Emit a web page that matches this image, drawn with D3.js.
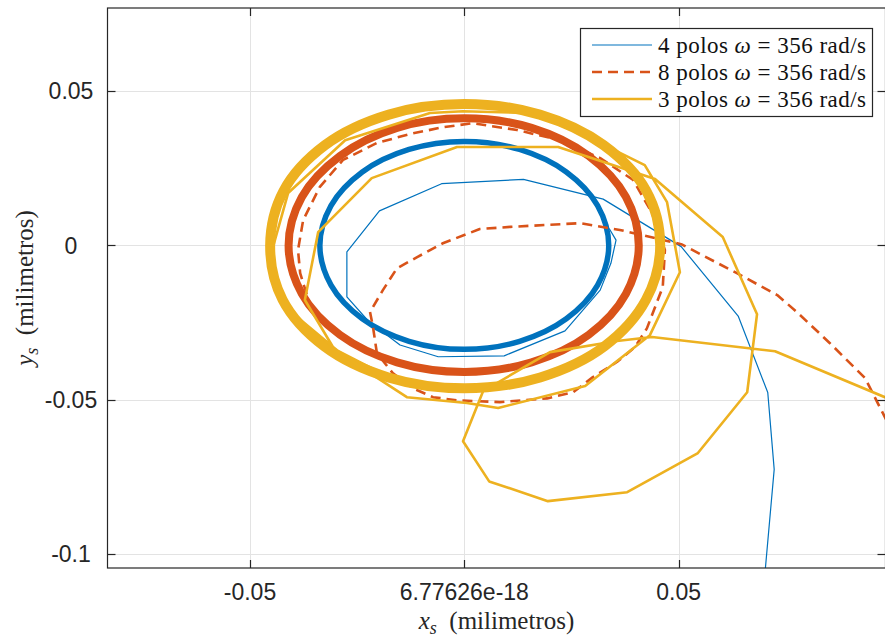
<!DOCTYPE html>
<html><head><meta charset="utf-8">
<script src="https://cdn.jsdelivr.net/npm/d3@7"></script>
<style>body{margin:0;background:#fff}svg{display:block}</style>
</head><body><svg id="c" width="885" height="642"></svg>
<script>
// ---------- DATA ----------
const legendLabels = ["4 polos", "8 polos", "3 polos"];
const legendOmega = "356 rad/s";
const xTickValues = [-0.05, 6.77626e-18, 0.05];
const xTickLabels = ["-0.05", "6.77626e-18", "0.05"];
const yTickValues = [0.05, 0, -0.05, -0.1];
const yTickLabels = ["0.05", "0", "-0.05", "-0.1"];

// 4 polos: transient then steady orbit
const blueTransient = [
  [0.0700,-0.1085],[0.0723,-0.0726],[0.0708,-0.0477],[0.0639,-0.0229],[0.0506,-0.0004],
  [0.0324,0.0150],[0.0138,0.0214],[-0.0053,0.0200],[-0.0198,0.0112],[-0.0274,-0.0021],
  [-0.0274,-0.0167],[-0.0224,-0.0245],[-0.0150,-0.0323],[-0.0061,-0.0361],[0.0093,-0.0358],
  [0.0235,-0.0277],[0.0317,-0.0145],[0.0342,-0.0058],[0.0354,0.0017],[0.0338,0.0055]
];
const blueOrbit = [
  [0.0337,0],[0.0311,0.0129],[0.0238,0.0238],[0.0129,0.0311],[0,0.0337],[-0.0129,0.0311],
  [-0.0238,0.0238],[-0.0311,0.0129],[-0.0337,0],[-0.0311,-0.0129],[-0.0238,-0.0238],
  [-0.0129,-0.0311],[0,-0.0337],[0.0129,-0.0311],[0.0238,-0.0238],[0.0311,-0.0129]
];
// 8 polos
const orangeTransient = [
  [0.0985,-0.0567],[0.0935,-0.0430],[0.0853,-0.0317],[0.0776,-0.0216],[0.0730,-0.0161],
  [0.0636,-0.0090],[0.0506,0.0004],[0.0363,0.0050],[0.0270,0.0072],[0.0107,0.0060],
  [0.0036,0.0053],[-0.0050,0.0007],[-0.0110,-0.0038],[-0.0157,-0.0074],[-0.0190,-0.0145],
  [-0.0220,-0.0216],[-0.0213,-0.0265],[-0.0204,-0.0349],[-0.0167,-0.0414],[-0.0120,-0.0463],
  [-0.0073,-0.0492],[-0.0017,-0.0502],[0.0083,-0.0508],[0.0193,-0.0496],[0.0254,-0.0476],
  [0.0300,-0.0427],[0.0356,-0.0378],[0.0398,-0.0330],[0.0426,-0.0269],[0.0463,-0.0135],
  [0.0468,-0.0015],[0.0438,0.0105],[0.0394,0.0212],[0.0317,0.0283],[0.0223,0.0341],
  [0.0123,0.0374],[0.0020,0.0396],[-0.0050,0.0383],[-0.0127,0.0361],[-0.0204,0.0332],
  [-0.0283,0.0277],[-0.0337,0.0190],[-0.0376,0.0082],[-0.0388,-0.0015],[-0.0383,-0.0090],
  [-0.0365,-0.0171]
];
const orangeOrbit = [
  [0.0407,0],[0.0377,0.0157],[0.0290,0.0290],[0.0157,0.0381],[0,0.0412],[-0.0157,0.0381],
  [-0.0290,0.0290],[-0.0379,0.0157],[-0.0410,0],[-0.0379,-0.0157],[-0.0290,-0.0290],
  [-0.0157,-0.0379],[0,-0.0410],[0.0157,-0.0379],[0.0290,-0.0290],[0.0377,-0.0157]
];
// 3 polos
const yellowTransient = [
  [0.0993,-0.0499],[0.0725,-0.0343],[0.0438,-0.0297],[0.0356,-0.0310],[0.0200,-0.0346],
  [0.0044,-0.0472],[-0.0003,-0.0635],[0.0058,-0.0765],[0.0195,-0.0829],[0.0380,-0.0800],
  [0.0545,-0.0673],[0.0660,-0.0476],[0.0683,-0.0223],[0.0603,0.0027],[0.0445,0.0215],
  [0.0219,0.0319],[-0.0017,0.0319],[-0.0216,0.0218],[-0.0341,0.0043],[-0.0372,-0.0177],
  [-0.0302,-0.0340],[-0.0134,-0.0492],[0.0006,-0.0511],[0.0079,-0.0527],[0.0282,-0.0456],
  [0.0433,-0.0291],[0.0503,-0.0087],[0.0473,0.0140],[0.0421,0.0260],[0.0270,0.0364],
  [0.0153,0.0429],[-0.0003,0.0435],[-0.0080,0.0429],[-0.0278,0.0341],[-0.0411,0.0170],
  [-0.0453,-0.0038],[-0.0435,-0.0145],[-0.0390,-0.0232],[-0.0297,-0.0340],[-0.0197,-0.0412]
];
const yellowOrbit = [
  [0.0457,0],[0.0425,0.0176],[0.0325,0.0325],[0.0176,0.0424],[0,0.0458],[-0.0176,0.0424],
  [-0.0325,0.0325],[-0.0422,0.0176],[-0.0453,0],[-0.0424,-0.0176],[-0.0327,-0.0327],
  [-0.0177,-0.0428],[0,-0.0463],[0.0177,-0.0428],[0.0327,-0.0327],[0.0424,-0.0176]
];
const colors = ["#0072BD", "#D95319", "#EDB120"];

// ---------- LAYOUT ----------
const L = 107.5, T = 8, R = 885.5, B = 568;
const svg = d3.select("#c");
const x = d3.scaleLinear().domain([-0.08325, 0.09827]).range([L, R]);
const y = d3.scaleLinear().domain([-0.10457, 0.07695]).range([B, T]);
const axisColor = "#262626";

// grid
const g = svg.append("g");
g.selectAll(".gx").data(xTickValues).enter().append("line")
  .attr("x1", d => Math.round(x(d)) + 0.5).attr("x2", d => Math.round(x(d)) + 0.5)
  .attr("y1", T).attr("y2", B).attr("stroke", "#e3e3e3").attr("stroke-width", 1);
g.selectAll(".gy").data(yTickValues).enter().append("line")
  .attr("y1", d => Math.round(y(d)) + 0.5).attr("y2", d => Math.round(y(d)) + 0.5)
  .attr("x1", L).attr("x2", R).attr("stroke", "#e3e3e3").attr("stroke-width", 1);

// clip
svg.append("clipPath").attr("id", "clip").append("rect")
  .attr("x", L).attr("y", T).attr("width", R - L).attr("height", B - T);
const plot = svg.append("g").attr("clip-path", "url(#clip)");

const lineOpen = d3.line().x(d => x(d[0])).y(d => y(d[1]));
const lineClosed = d3.line().x(d => x(d[0])).y(d => y(d[1])).curve(d3.curveCatmullRomClosed);

function series(trans, orbit, color, thinW, bandW, dash) {
  plot.append("path").attr("d", lineClosed(orbit)).attr("fill", "none")
    .attr("stroke", color).attr("stroke-width", bandW);
  plot.append("path").attr("d", lineOpen(trans)).attr("fill", "none")
    .attr("stroke", color).attr("stroke-width", thinW)
    .attr("stroke-linejoin", "round")
    .attr("stroke-dasharray", dash || null);
}
series(blueTransient, blueOrbit, colors[0], 1.2, 5.5, null);
series(orangeTransient, orangeOrbit, colors[1], 2.6, 8, "10,6");
series(yellowTransient, yellowOrbit, colors[2], 2.6, 10, null);

// axes box
const ax = svg.append("g");
ax.append("rect").attr("x", L).attr("y", T).attr("width", R - L).attr("height", B - T)
  .attr("fill", "none").attr("stroke", axisColor).attr("stroke-width", 1.2);

// ticks (inward, on all four sides)
const tk = 8;
xTickValues.forEach(v => {
  const px = Math.round(x(v)) + 0.5;
  ax.append("line").attr("x1", px).attr("x2", px).attr("y1", B).attr("y2", B - tk).attr("stroke", axisColor).attr("stroke-width", 1.2);
  ax.append("line").attr("x1", px).attr("x2", px).attr("y1", T).attr("y2", T + tk).attr("stroke", axisColor).attr("stroke-width", 1.2);
});
yTickValues.forEach(v => {
  const py = Math.round(y(v)) + 0.5;
  ax.append("line").attr("y1", py).attr("y2", py).attr("x1", L).attr("x2", L + tk).attr("stroke", axisColor).attr("stroke-width", 1.2);
  ax.append("line").attr("y1", py).attr("y2", py).attr("x1", R).attr("x2", R - tk).attr("stroke", axisColor).attr("stroke-width", 1.2);
});

// tick labels
const tickFont = "'Liberation Sans', Arial, sans-serif";
ax.selectAll(".xl").data(xTickValues).enter().append("text")
  .attr("x", d => x(d)).attr("y", 600)
  .attr("text-anchor", "middle").attr("font-family", tickFont).attr("font-size", 23)
  .attr("fill", axisColor).text((d, i) => xTickLabels[i]);
ax.selectAll(".yl").data(yTickValues).enter().append("text")
  .attr("x", 71).attr("y", d => y(d)).attr("dy", "0.36em")
  .attr("text-anchor", "middle").attr("font-family", tickFont).attr("font-size", 23)
  .attr("fill", axisColor).text((d, i) => yTickLabels[i]);

// axis labels
const serif = "'Liberation Serif', 'Times New Roman', serif";
const xl = ax.append("text").attr("x", (L + R) / 2).attr("y", 629)
  .attr("text-anchor", "middle").attr("font-family", serif).attr("font-size", 25).attr("fill", axisColor);
xl.append("tspan").attr("font-style", "italic").text("x");
xl.append("tspan").attr("font-style", "italic").attr("font-size", 18).attr("dy", 5).text("s");
xl.append("tspan").attr("dy", -5).text("\u2002(milimetros)");

const yl = ax.append("text").attr("transform", `translate(33,${(T + B) / 2}) rotate(-90)`)
  .attr("text-anchor", "middle").attr("font-family", serif).attr("font-size", 25).attr("fill", axisColor);
yl.append("tspan").attr("font-style", "italic").text("y");
yl.append("tspan").attr("font-style", "italic").attr("font-size", 18).attr("dy", 5).text("s");
yl.append("tspan").attr("dy", -5).text("\u2002(milimetros)");

// legend
const lg = svg.append("g");
lg.append("rect").attr("x", 580.5).attr("y", 28.5).attr("width", 292).attr("height", 88)
  .attr("fill", "#fff").attr("stroke", axisColor).attr("stroke-width", 1.2);
const rowsY = [45, 72, 99];
const widths = [1.2, 2.6, 2.6];
const dashes = [null, "10,6", null];
legendLabels.forEach((lab, i) => {
  lg.append("line").attr("x1", 592).attr("x2", 652).attr("y1", rowsY[i]).attr("y2", rowsY[i])
    .attr("stroke", colors[i]).attr("stroke-width", widths[i]).attr("stroke-dasharray", dashes[i]);
  const t = lg.append("text").attr("x", 658).attr("y", rowsY[i] + 7.5)
    .attr("font-family", serif).attr("font-size", 23).attr("fill", "#111")
    .attr("textLength", 208).attr("lengthAdjust", "spacing");
  t.append("tspan").text(lab + " ");
  t.append("tspan").attr("font-style", "italic").text("\u03C9");
  t.append("tspan").text(" = " + legendOmega);
});
</script></body></html>
